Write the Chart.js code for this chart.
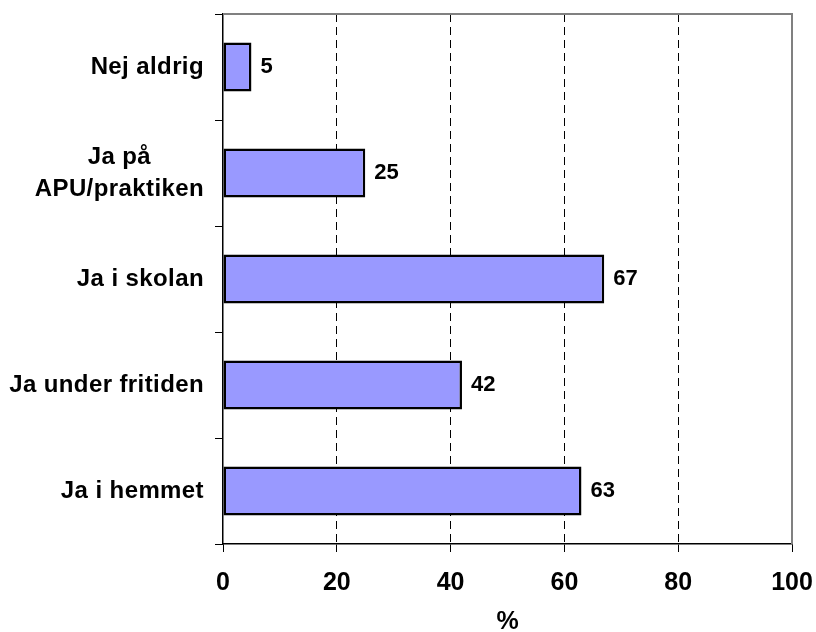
<!DOCTYPE html>
<html>
<head>
<meta charset="utf-8">
<script src="https://cdn.jsdelivr.net/npm/chart.js@4.4.0/dist/chart.umd.min.js"></script>
<style>
  body { margin: 0; background: #fff; }
</style>
</head>
<body>
<canvas id="myChart" width="816" height="632"></canvas>
<script>
// data
const categories = [['Nej aldrig'], ['Ja på', 'APU/praktiken'], ['Ja i skolan'], ['Ja under fritiden'], ['Ja i hemmet']];
const values = [5, 25, 67, 42, 63];
const xTicks = [0, 20, 40, 60, 80, 100];
const axisTitle = '%';

const fontFamily = '"Liberation Sans", Arial, sans-serif';

// category labels, value labels and the grey frame on top/right
const extras = {
    id: 'extras',
    afterDatasetsDraw: function (chart) {
        const ctx = chart.ctx;
        const area = chart.chartArea;
        const yScale = chart.scales.y;
        const meta = chart.getDatasetMeta(0);
        ctx.save();

        ctx.strokeStyle = '#808080';
        ctx.lineWidth = 2;
        ctx.beginPath();
        ctx.moveTo(area.left, area.top);
        ctx.lineTo(area.right, area.top);
        ctx.lineTo(area.right, area.bottom);
        ctx.stroke();

        ctx.fillStyle = '#000';
        ctx.font = 'bold 24px ' + fontFamily;
        ctx.letterSpacing = '0.4px';
        ctx.textBaseline = 'middle';
        ctx.textAlign = 'center';
        categories.forEach(function (lines, i) {
            const y = yScale.getPixelForValue(i);
            let w = 0;
            lines.forEach(function (l) { w = Math.max(w, ctx.measureText(l).width); });
            const cx = area.left - 19 - w / 2;
            lines.forEach(function (l, j) {
                ctx.fillText(l, cx, y + (j - (lines.length - 1) / 2) * 32);
            });
        });

        ctx.font = 'bold 22px ' + fontFamily;
        ctx.letterSpacing = '0px';
        ctx.textAlign = 'left';
        meta.data.forEach(function (bar, i) {
            ctx.fillText(String(values[i]), bar.x + 9, bar.y);
        });
        ctx.restore();
    }
};

new Chart(document.getElementById('myChart'), {
    type: 'bar',
    data: {
        labels: categories,
        datasets: [{
            data: values,
            backgroundColor: '#9999ff',
            borderColor: '#000',
            borderWidth: 2.5,
            borderSkipped: false,
            categoryPercentage: 1,
            barPercentage: 0.46
        }]
    },
    options: {
        indexAxis: 'y',
        responsive: false,
        animation: false,
        layout: { padding: { top: 14, right: 24, left: 0, bottom: 0 } },
        plugins: {
            legend: { display: false },
            tooltip: { enabled: false }
        },
        scales: {
            x: {
                min: 0,
                max: 100,
                afterBuildTicks: function (scale) {
                    scale.ticks = xTicks.map(function (v) { return { value: v }; });
                },
                afterFit: function (scale) {
                    scale.height = 88;
                    scale.paddingLeft = 0;
                    scale.paddingRight = 0;
                },
                ticks: {
                    color: '#000',
                    padding: 16,
                    font: { family: fontFamily, size: 25, weight: 'bold' }
                },
                grid: {
                    color: function (c) {
                        const v = c.tick ? c.tick.value : null;
                        return (v === 0 || v === 100) ? 'rgba(0,0,0,0)' : '#000';
                    },
                    lineWidth: 1,
                    tickLength: 8,
                    tickColor: '#000',
                    tickBorderDash: []
                },
                border: { color: '#000', width: 1.5, dash: [8, 5] },
                title: {
                    display: true,
                    text: axisTitle,
                    color: '#000',
                    padding: 0,
                    font: { family: fontFamily, size: 25, weight: 'bold', lineHeight: '20px' }
                }
            },
            y: {
                afterFit: function (scale) { scale.width = 223; },
                ticks: { display: false },
                grid: {
                    drawOnChartArea: false,
                    offset: true,
                    tickLength: 8,
                    tickColor: '#000',
                    color: '#000'
                },
                border: { color: '#000', width: 1.5 }
            }
        }
    },
    plugins: [extras]
});
</script>
</body>
</html>
